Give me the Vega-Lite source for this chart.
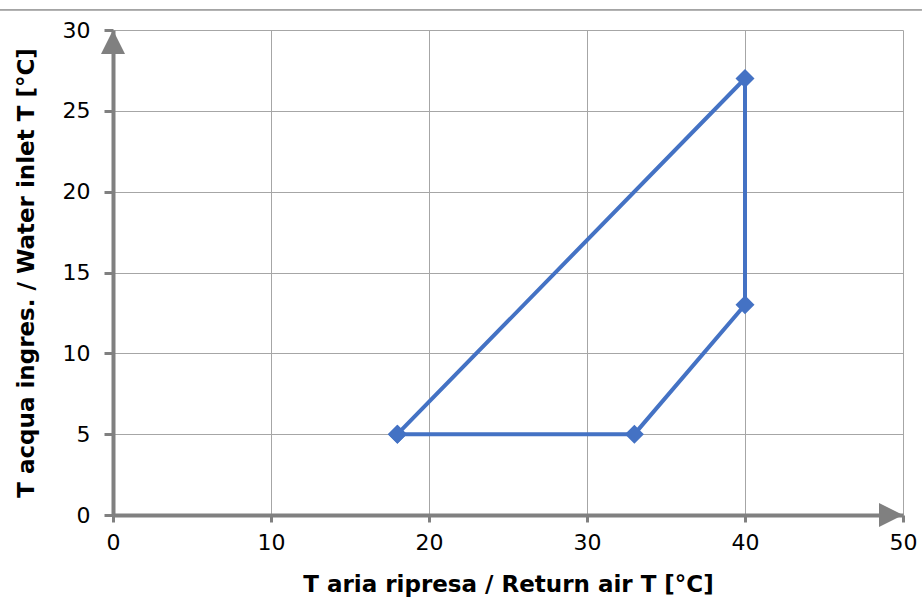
{
  "$schema": "https://vega.github.io/schema/vega-lite/v6.json",
  "width": 790,
  "height": 485,
  "autosize": {"type": "none"},
  "padding": {"left": 113, "top": 30, "right": 19, "bottom": 89},
  "background": "white",
  "config": {"view": {"stroke": null}, "font": "DejaVu Sans"},
  "datasets": {
    "poly": [
      {"order": 1, "x": 18, "y": 5},
      {"order": 2, "x": 40, "y": 27},
      {"order": 3, "x": 40, "y": 13},
      {"order": 4, "x": 33, "y": 5},
      {"order": 5, "x": 18, "y": 5}
    ],
    "arrows": [
      {"x": 0, "y": 30, "dir": "up"},
      {"x": 50, "y": 0, "dir": "right"}
    ],
    "frame": [
      {"x": -7.152, "x2": 51.2, "y": 31.24}
    ]
  },
  "layer": [
    {
      "data": {"name": "poly"},
      "mark": {
        "type": "line",
        "color": "#4472C4",
        "strokeWidth": 4,
        "point": {"shape": "diamond", "size": 361, "filled": true, "color": "#4472C4", "opacity": 1}
      },
      "encoding": {
        "x": {
          "field": "x",
          "type": "quantitative",
          "scale": {"domain": [0, 50], "nice": false, "zero": false},
          "axis": {
            "values": [0, 10, 20, 30, 40, 50],
            "grid": true,
            "gridColor": "#a6a6a6",
            "gridWidth": 1,
            "domainColor": "#808080",
            "domainWidth": 4,
            "tickColor": "#808080",
            "tickWidth": 3,
            "tickSize": 7,
            "labelFontSize": 22,
            "labelColor": "#000000",
            "labelPadding": 10,
            "labelFlush": false,
            "title": "T aria ripresa / Return air T [°C]",
            "titleFontSize": 23,
            "titleFontWeight": "bold",
            "titleColor": "#000000",
            "titlePadding": 20
          }
        },
        "y": {
          "field": "y",
          "type": "quantitative",
          "scale": {"domain": [0, 30], "nice": false, "zero": false},
          "axis": {
            "values": [0, 5, 10, 15, 20, 25, 30],
            "grid": true,
            "gridColor": "#a6a6a6",
            "gridWidth": 1,
            "domainColor": "#808080",
            "domainWidth": 4,
            "tickColor": "#808080",
            "tickWidth": 3,
            "tickSize": 9,
            "labelFontSize": 22,
            "labelColor": "#000000",
            "labelPadding": 14,
            "labelFlush": false,
            "title": "T acqua ingres. / Water inlet T [°C]",
            "titleFontSize": 23,
            "titleFontWeight": "bold",
            "titleColor": "#000000",
            "titlePadding": 24
          }
        },
        "order": {"field": "order", "type": "quantitative"}
      }
    },
    {
      "data": {"name": "arrows"},
      "mark": {"type": "point", "filled": true, "color": "#808080", "opacity": 1, "size": 576},
      "encoding": {
        "x": {"field": "x", "type": "quantitative"},
        "y": {"field": "y", "type": "quantitative"},
        "shape": {
          "field": "dir",
          "type": "nominal",
          "scale": {"domain": ["up", "right"], "range": ["M0,0L-1,2L1,2Z", "M0,0L-2,-1L-2,1Z"]},
          "legend": null
        }
      }
    },
    {
      "data": {"name": "frame"},
      "mark": {"type": "rule", "color": "#595959", "strokeWidth": 1},
      "encoding": {
        "y": {"field": "y", "type": "quantitative"},
        "x": {"field": "x", "type": "quantitative"},
        "x2": {"field": "x2"}
      }
    }
  ]
}
